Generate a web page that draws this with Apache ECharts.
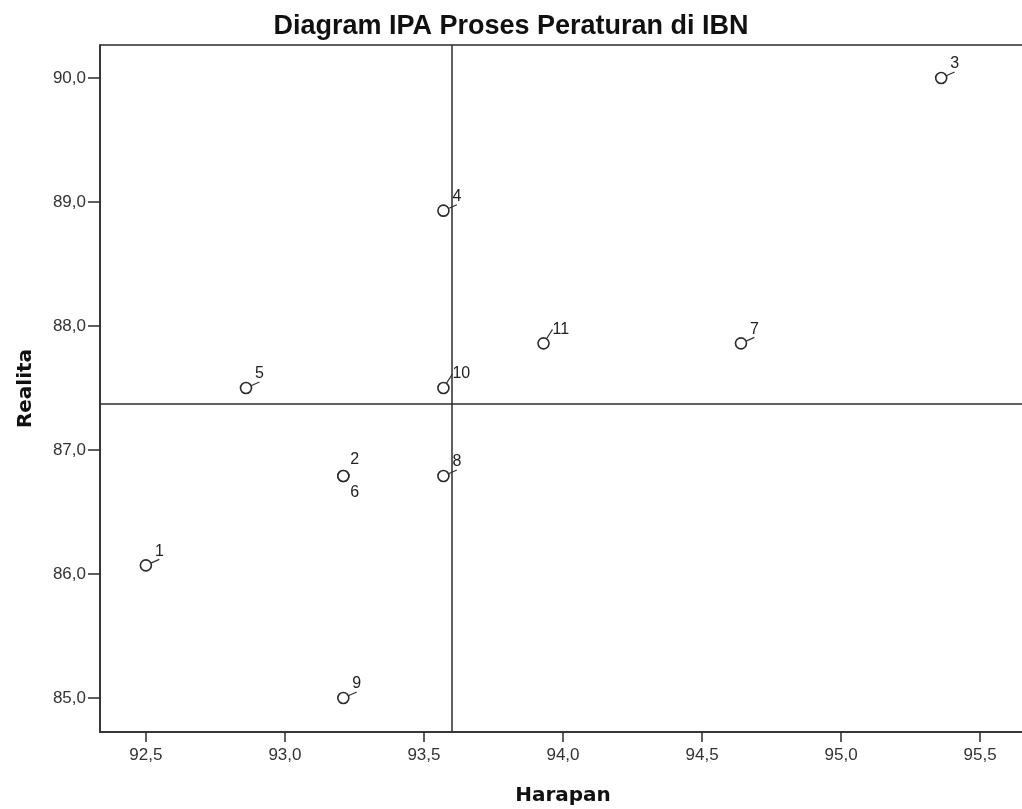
<!DOCTYPE html>
<html>
<head>
<meta charset="utf-8">
<script src="https://cdn.jsdelivr.net/npm/echarts@6/dist/echarts.min.js"></script>
<style>html,body{margin:0;padding:0;background:#fff;}#c{width:1022px;height:809px;}</style>
</head>
<body>
<div id="c"></div>
<script>
// ---- data ----
const pointIds = ['1','2','3','4','5','6','7','8','9','10','11'];
const harapan  = [92.50, 93.21, 95.36, 93.57, 92.86, 93.21, 94.64, 93.57, 93.21, 93.57, 93.93];
const realita  = [86.07, 86.79, 90.00, 88.93, 87.50, 86.79, 87.86, 86.79, 85.00, 87.50, 87.86];
const xTicks = [92.5, 93.0, 93.5, 94.0, 94.5, 95.0, 95.5];
const yTicks = [85.0, 86.0, 87.0, 88.0, 89.0, 90.0];
const titleText = 'Diagram IPA Proses Peraturan di IBN';
const xName = 'Harapan';
const yName = 'Realita';

const mean = a => a.reduce((s, v) => s + v, 0) / a.length;
const meanX = mean(harapan);
const meanY = mean(realita);
const fmt = v => v.toFixed(1).replace('.', ',');

// label placement: coincident points -> first label above, second below (no connector)
const keys = pointIds.map((id, i) => harapan[i] + '_' + realita[i]);
const placement = keys.map((k, i) => {
  if (keys.indexOf(k) < i) return 'below';
  if (keys.indexOf(k, i + 1) > -1) return 'above';
  return 'normal';
});
const points = pointIds.map((id, i) => {
  const item = { value: [harapan[i], realita[i]], name: id };
  if (placement[i] !== 'normal') item.labelLine = { show: false };
  return item;
});

const chart = echarts.init(document.getElementById('c'), null, { renderer: 'canvas' });
const axisColor = '#2b2b2b';
chart.setOption({
  animation: false,
  backgroundColor: '#fff',
  title: {
    text: titleText, left: 'center', top: 8,
    textStyle: { fontFamily: 'Liberation Sans', fontWeight: 'bold', fontSize: 27, color: '#111' }
  },
  grid: {
    left: 100, top: 45, right: -4, bottom: 77,
    containLabel: false, outerBoundsMode: 'none',
    show: true, borderColor: axisColor, borderWidth: 1.5, backgroundColor: 'transparent'
  },
  xAxis: {
    type: 'value', min: 92.335, max: 95.665,
    name: xName, nameLocation: 'middle', nameGap: 54,
    nameTextStyle: { fontFamily: 'DejaVu Sans', fontWeight: 'bold', fontSize: 20, color: '#111' },
    axisLine: { show: true, lineStyle: { color: axisColor, width: 1.5 } },
    axisTick: { show: true, length: 10, lineStyle: { color: axisColor, width: 1.5 }, customValues: xTicks },
    axisLabel: { customValues: xTicks, formatter: fmt, margin: 15, fontFamily: 'Liberation Sans', fontSize: 17, color: '#333' },
    splitLine: { show: false }
  },
  yAxis: {
    type: 'value', min: 84.726, max: 90.266,
    name: yName, nameLocation: 'middle', nameGap: 64,
    nameTextStyle: { fontFamily: 'DejaVu Sans', fontWeight: 'bold', fontSize: 20, color: '#111' },
    axisLine: { show: true, lineStyle: { color: axisColor, width: 1.5 } },
    axisTick: { show: true, length: 12, lineStyle: { color: axisColor, width: 1.5 }, customValues: yTicks },
    axisLabel: { customValues: yTicks, formatter: fmt, margin: 14, fontFamily: 'Liberation Sans', fontSize: 17, color: '#333' },
    splitLine: { show: false }
  },
  series: [{
    type: 'scatter',
    data: points,
    symbol: 'circle',
    symbolSize: 11,
    itemStyle: { color: '#fff', borderColor: '#2b2b2b', borderWidth: 1.6, opacity: 1 },
    label: {
      show: true, formatter: p => p.name, position: 'inside',
      fontFamily: 'Liberation Sans', fontSize: 16, color: '#222'
    },
    labelLayout: function (p) {
      const cx = p.rect.x + p.rect.width / 2;
      const cy = p.rect.y + p.rect.height / 2;
      const pl = placement[p.dataIndex];
      if (pl === 'above') return { x: cx + 7, y: cy - 16, align: 'left', verticalAlign: 'middle' };
      if (pl === 'below') return { x: cx + 7, y: cy + 17, align: 'left', verticalAlign: 'middle' };
      return { x: cx + 9, y: cy - 14, align: 'left', verticalAlign: 'middle' };
    },
    labelLine: { show: true, lineStyle: { color: '#333', width: 1.2 } },
    markLine: {
      silent: true, symbol: 'none', animation: false,
      label: { show: false },
      lineStyle: { color: axisColor, width: 1.5, type: 'solid' },
      data: [{ xAxis: meanX }, { yAxis: meanY }]
    },
    z: 3
  }]
});
</script>
</body>
</html>
